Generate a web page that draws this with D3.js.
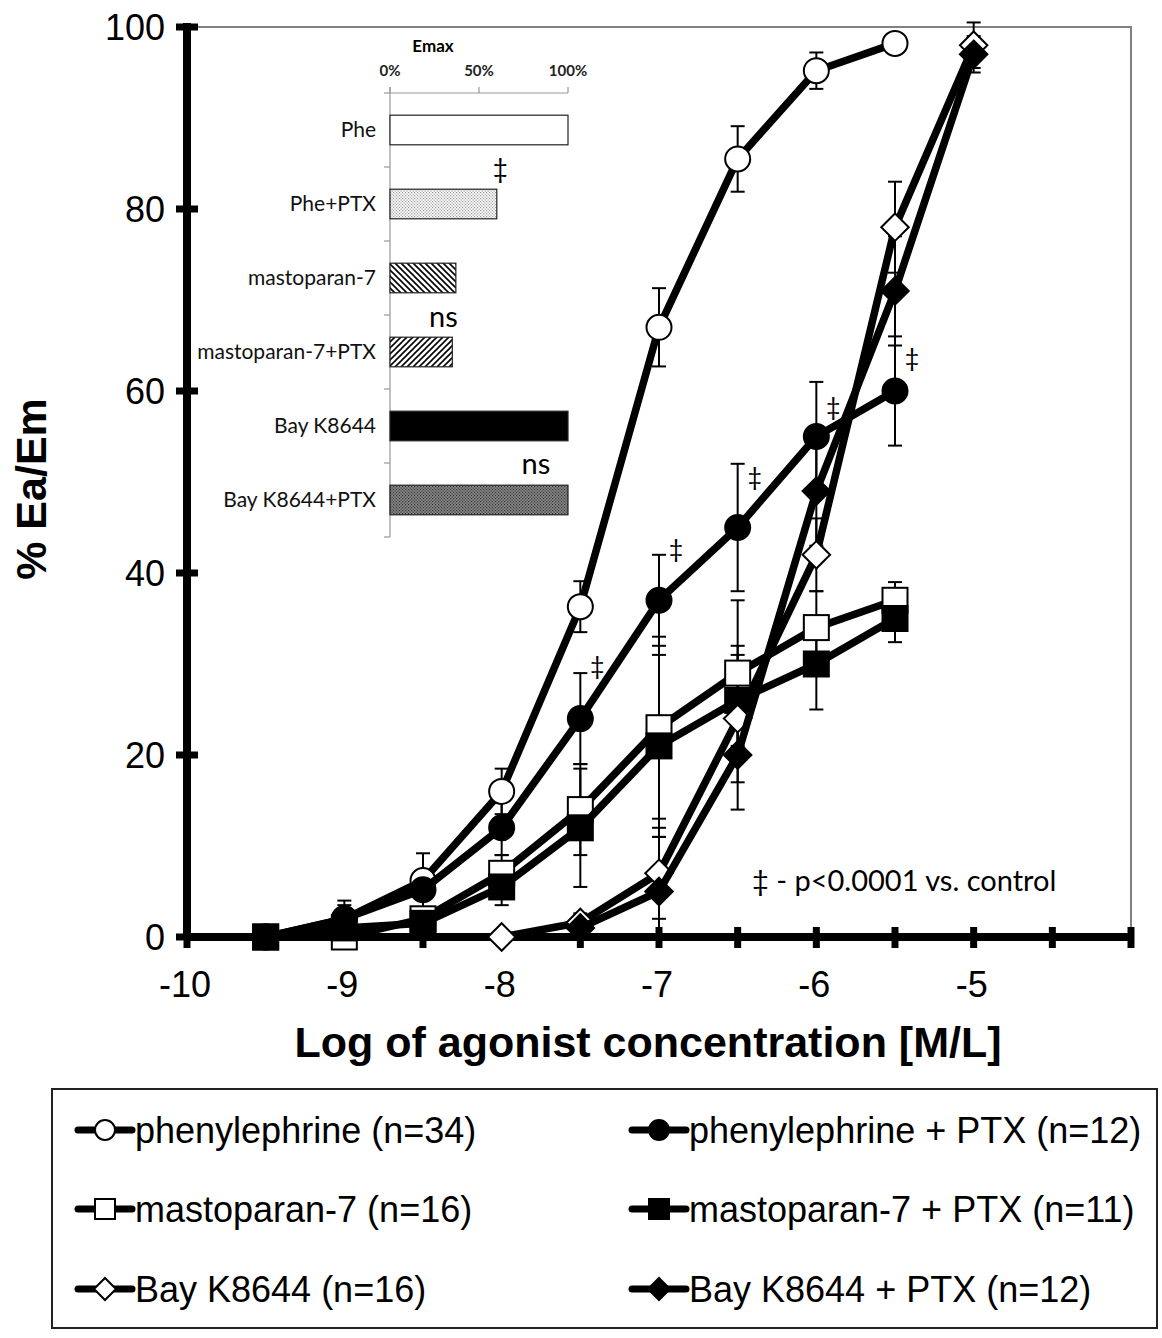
<!DOCTYPE html>
<meta charset="utf-8">
<style>
 body { margin: 0; background: #fff; }
 text { font-family: Arial, "Liberation Sans", sans-serif; }
 .inset text { font-family: Lato, "Open Sans", sans-serif; }
</style>
<body>
<svg></svg>
<script src="https://cdn.jsdelivr.net/npm/d3@7"></script>
<script>

	// DATA-----------------------------------------------------------------
	var logConc = [-9.5, -9, -8.5, -8, -7.5, -7, -6.5, -6, -5.5, -5];

	var phe         = [0, 2, 6.2, 16, 36.3, 67, 85.5, 95.2, 98.2, null];
	var pheErr      = [0, 2, 3, 2.5, 2.8, 4.3, 3.6, 2, 0.5, 0];
	var phePtx      = [0, 2, 5.2, 12, 24, 37, 45, 55, 60, null];
	var phePtxErr   = [0, 1.5, 2, 3, 5, 5, 7, 6, 6, 0];
	var masto       = [0, 0, 2, 7, 14, 23, 29, 34, 37, null];
	var mastoErr    = [0, 0, 1, 2, 5, 10, 8, 4, 2, 0];
	var mastoPtx    = [0, 1, 1.5, 5.5, 12, 21, 26, 30, 35, null];
	var mastoPtxErr = [0, 0.5, 1, 2, 6.5, 10, 6, 5, 2.6, 0];
	var bay         = [null, null, null, 0, 1.6, 7, 24, 42, 78, 98];
	var bayErr      = [0, 0, 0, 0, 1, 5, 7, 4, 5, 2.5];
	var bayPtx      = [null, null, null, null, 1, 5, 20, 49, 71, 97];
	var bayPtxErr   = [0, 0, 0, 0, 1, 6, 6, 6, 6, 2];

	var seriesNames = ["phenylephrine (n=34)", "phenylephrine + PTX (n=12)",
	                   "mastoparan-7 (n=16)", "mastoparan-7 + PTX (n=11)",
	                   "Bay K8644 (n=16)", "Bay K8644 + PTX (n=12)"];

	// significance marks next to phenylephrine + PTX points [logConc, %]
	var sigConc = [-7.5, -7, -6.5, -6, -5.5];
	var sigPos  = [29.7, 42.6, 50.5, 58.2, 63.6];

	var xTicks = [-10, -9.5, -9, -8.5, -8, -7.5, -7, -6.5, -6, -5.5, -5, -4.5, -4];
	var xLabels = [-10, -9, -8, -7, -6, -5];
	var yTicks = [0, 20, 40, 60, 80, 100];

	// inset bar chart (Emax)
	var emaxCats = ["Phe", "Phe+PTX", "mastoparan-7", "mastoparan-7+PTX", "Bay K8644", "Bay K8644+PTX"];
	var emaxVals = [100, 60, 37, 35, 100, 100];
	var emaxTicks = [0, 50, 100];

	// SETUP----------------------------------------------------------------
	var width = 1162, height = 1338;
	var svg = d3.select("svg")
			.attr("width", width)
			.attr("height", height);

	var x = d3.scaleLinear().domain([-10, -4]).range([187, 1131]);
	var y = d3.scaleLinear().domain([0, 100]).range([937, 27]);

	var series = [
		{v: phe,      e: pheErr,      shape: "circle",  fill: "#fff"},
		{v: phePtx,   e: phePtxErr,   shape: "circle",  fill: "#000"},
		{v: masto,    e: mastoErr,    shape: "square",  fill: "#fff"},
		{v: mastoPtx, e: mastoPtxErr, shape: "square",  fill: "#000"},
		{v: bay,      e: bayErr,      shape: "diamond", fill: "#fff"},
		{v: bayPtx,   e: bayPtxErr,   shape: "diamond", fill: "#000"}
	];

	// patterns for the inset bars
	var defs = svg.append("defs");
	function stipple(id, bg, dot)
	{
		var p = defs.append("pattern").attr("id", id)
				.attr("width", 3).attr("height", 3)
				.attr("patternUnits", "userSpaceOnUse");
		p.append("rect").attr("width", 3).attr("height", 3).attr("fill", bg);
		p.append("rect").attr("width", 1.2).attr("height", 1.2).attr("fill", dot);
		p.append("rect").attr("x", 1.5).attr("y", 1.5).attr("width", 1.2).attr("height", 1.2).attr("fill", dot);
	}
	function hatch(id, dir)
	{
		var p = defs.append("pattern").attr("id", id)
				.attr("width", 6).attr("height", 6)
				.attr("patternUnits", "userSpaceOnUse");
		p.append("rect").attr("width", 6).attr("height", 6).attr("fill", "#fff");
		var d = dir > 0 ? "M-1,7 L7,-1 M-1,1 L1,-1 M5,7 L7,5" : "M-1,-1 L7,7 M5,-1 L7,1 M-1,5 L1,7";
		p.append("path").attr("d", d).attr("stroke", "#000").attr("stroke-width", 1.6);
	}
	stipple("dotLight", "#fff", "#9a9a9a");
	stipple("dotDark", "#8a8a8a", "#333");
	hatch("hatchBack", -1);
	hatch("hatchFwd", 1);
	var barFills = ["#fff", "url(#dotLight)", "url(#hatchBack)", "url(#hatchFwd)", "#000", "url(#dotDark)"];

	// FRAME + AXES---------------------------------------------------------
	svg.append("path")
	   .attr("d", "M" + x(-10) + "," + y(100) + "H" + x(-4) + "V" + y(0))
	   .attr("fill", "none").attr("stroke", "#808080").attr("stroke-width", 2);

	// x axis
	svg.append("line")
	   .attr("x1", x(-10)).attr("x2", x(-4))
	   .attr("y1", y(0)).attr("y2", y(0))
	   .attr("stroke", "#000").attr("stroke-width", 8);
	svg.selectAll(".xtick").data(xTicks).enter().append("line")
	   .attr("x1", d => x(d)).attr("x2", d => x(d))
	   .attr("y1", y(0) - 10).attr("y2", y(0) + 11)
	   .attr("stroke", "#000").attr("stroke-width", 7);
	svg.selectAll(".xlab").data(xLabels).enter().append("text")
	   .attr("x", d => x(d) - 2).attr("y", 997)
	   .attr("text-anchor", "middle").attr("font-size", 36)
	   .text(d => d);

	// y axis
	svg.append("line")
	   .attr("x1", x(-10)).attr("x2", x(-10))
	   .attr("y1", y(0)).attr("y2", y(100) - 4)
	   .attr("stroke", "#000").attr("stroke-width", 8);
	svg.selectAll(".ytick").data(yTicks).enter().append("line")
	   .attr("x1", 176).attr("x2", 198)
	   .attr("y1", d => y(d)).attr("y2", d => y(d))
	   .attr("stroke", "#000").attr("stroke-width", 7);
	svg.selectAll(".ylab").data(yTicks).enter().append("text")
	   .attr("x", 165).attr("y", d => y(d)).attr("dy", "0.35em")
	   .attr("text-anchor", "end").attr("font-size", 36)
	   .text(d => d);

	svg.append("text")
	   .attr("transform", "translate(46,489) rotate(-90)")
	   .attr("text-anchor", "middle").attr("font-size", 43).attr("font-weight", "bold")
	   .text("% Ea/Em");
	svg.append("text")
	   .attr("x", 648).attr("y", 1057)
	   .attr("text-anchor", "middle").attr("font-size", 43).attr("font-weight", "bold")
	   .text("Log of agonist concentration [M/L]");

	// INSET BAR CHART------------------------------------------------------
	var inset = svg.append("g").attr("class", "inset");
	var bx = d3.scaleLinear().domain([0, 100]).range([390, 568]);
	var by = d3.scaleBand().domain(emaxCats).range([93, 537])
			.paddingInner(0.6).paddingOuter(0.3);
	var gap = (by.step() - by.bandwidth()) / 2;

	inset.append("line").attr("x1", bx(0)).attr("x2", bx(100))
		 .attr("y1", 93).attr("y2", 93).attr("stroke", "#999").attr("stroke-width", 1.2);
	inset.selectAll(".btick").data(emaxTicks).enter().append("line")
		 .attr("x1", d => bx(d)).attr("x2", d => bx(d))
		 .attr("y1", 87).attr("y2", 93).attr("stroke", "#999").attr("stroke-width", 1.2);
	inset.selectAll(".blab").data(emaxTicks).enter().append("text")
		 .attr("x", d => bx(d)).attr("y", 76)
		 .attr("text-anchor", "middle").attr("font-size", 15).attr("font-weight", "bold")
		 .attr("fill", "#222")
		 .text(d => d + "%");
	inset.append("text").attr("x", 433).attr("y", 52)
		 .attr("text-anchor", "middle").attr("font-size", 17).attr("font-weight", "bold")
		 .text("Emax");

	inset.append("line").attr("x1", bx(0)).attr("x2", bx(0))
		 .attr("y1", 87).attr("y2", 537).attr("stroke", "#999").attr("stroke-width", 1.2);
	var bounds = emaxCats.map(c => by(c) - gap).concat([by(emaxCats[5]) + by.bandwidth() + gap]);
	inset.selectAll(".ctick").data(bounds).enter().append("line")
		 .attr("x1", 384).attr("x2", 390)
		 .attr("y1", d => d).attr("y2", d => d)
		 .attr("stroke", "#999").attr("stroke-width", 1.2);

	inset.selectAll(".bar").data(emaxCats).enter().append("rect")
		 .attr("x", bx(0)).attr("y", d => by(d))
		 .attr("width", (d, i) => bx(emaxVals[i]) - bx(0))
		 .attr("height", by.bandwidth())
		 .attr("fill", (d, i) => barFills[i])
		 .attr("stroke", "#222").attr("stroke-width", 1.2);
	inset.selectAll(".clab").data(emaxCats).enter().append("text")
		 .attr("x", 376).attr("y", d => by(d) + by.bandwidth() / 2).attr("dy", "0.35em")
		 .attr("text-anchor", "end").attr("font-size", 21).attr("fill", "#111")
		 .text(d => d);

	inset.append("text").attr("x", bx(62)).attr("y", 178)
		 .attr("text-anchor", "middle").attr("font-size", 26).text("\u2021");
	inset.append("text").attr("x", bx(30)).attr("y", 327)
		 .attr("text-anchor", "middle").attr("font-size", 29).text("ns");
	inset.append("text").attr("x", bx(82)).attr("y", 474)
		 .attr("text-anchor", "middle").attr("font-size", 29).text("ns");

	inset.append("text").attr("x", 752).attr("y", 891)
		 .attr("font-size", 29).text("\u2021 - p<0.0001 vs. control");

	// MARKERS--------------------------------------------------------------
	function drawMarker(g, shape, fill, cx, cy, s)
	{
		var m;
		if(shape == "circle")
			m = g.append("circle").attr("cx", cx).attr("cy", cy).attr("r", s);
		else if(shape == "square")
			m = g.append("rect").attr("x", cx - s).attr("y", cy - s)
				 .attr("width", 2 * s).attr("height", 2 * s);
		else
			m = g.append("path").attr("d", "M" + cx + "," + (cy - s * 1.1) + "L" + (cx + s * 1.1) + "," + cy +
				 "L" + cx + "," + (cy + s * 1.1) + "L" + (cx - s * 1.1) + "," + cy + "Z");
		m.attr("fill", fill).attr("stroke", "#000").attr("stroke-width", 2);
	}

	// ERROR BARS-----------------------------------------------------------
	var errG = svg.append("g");
	series.forEach(function(s)
	{
		s.v.forEach(function(v, i)
		{
			if(v == null || !s.e[i]) return;
			var px = x(logConc[i]);
			var top = y(v + s.e[i]), bot = y(Math.max(0, v - s.e[i]));
			errG.append("line").attr("x1", px).attr("x2", px).attr("y1", top).attr("y2", bot)
				.attr("stroke", "#000").attr("stroke-width", 2);
			[top, bot].forEach(function(cy)
			{
				errG.append("line").attr("x1", px - 7).attr("x2", px + 7).attr("y1", cy).attr("y2", cy)
					.attr("stroke", "#000").attr("stroke-width", 2);
			});
		});
	});

	// SERIES---------------------------------------------------------------
	var line = d3.line()
			.defined(d => d.v != null)
			.x(d => x(d.c))
			.y(d => y(d.v));

	series.forEach(function(s)
	{
		var pts = logConc.map((c, i) => ({c: c, v: s.v[i]}));
		var g = svg.append("g");
		g.append("path").datum(pts)
		 .attr("d", line)
		 .attr("fill", "none").attr("stroke", "#000")
		 .attr("stroke-width", 7.5).attr("stroke-linejoin", "round");
		pts.filter(d => d.v != null).forEach(function(d)
		{
			drawMarker(g, s.shape, s.fill, x(d.c), y(d.v), 12.5);
		});
	});

	svg.selectAll(".sig").data(sigConc).enter().append("text")
	   .attr("x", d => x(d) + 17).attr("y", (d, i) => y(sigPos[i])).attr("dy", "0.35em")
	   .attr("text-anchor", "middle").attr("font-size", 25)
	   .style("font-family", "Lato, 'Open Sans', sans-serif")
	   .text("\u2021");

	// LEGEND---------------------------------------------------------------
	svg.append("rect").attr("x", 52).attr("y", 1089).attr("width", 1105).attr("height", 239)
	   .attr("fill", "none").attr("stroke", "#222").attr("stroke-width", 2);

	var legX = [105, 659], legY = [1130, 1209, 1289];
	seriesNames.forEach(function(name, i)
	{
		var cx = legX[i % 2], cy = legY[Math.floor(i / 2)];
		var g = svg.append("g");
		g.append("line").attr("x1", cx - 27).attr("x2", cx + 27).attr("y1", cy).attr("y2", cy)
		 .attr("stroke", "#000").attr("stroke-width", 7).attr("stroke-linecap", "round");
		drawMarker(g, series[i].shape, series[i].fill, cx, cy, 10);
		g.append("text").attr("x", cx + 30).attr("y", cy).attr("dy", "0.36em")
		 .attr("font-size", 36).text(name);
	});

</script>
</body>
</html>
